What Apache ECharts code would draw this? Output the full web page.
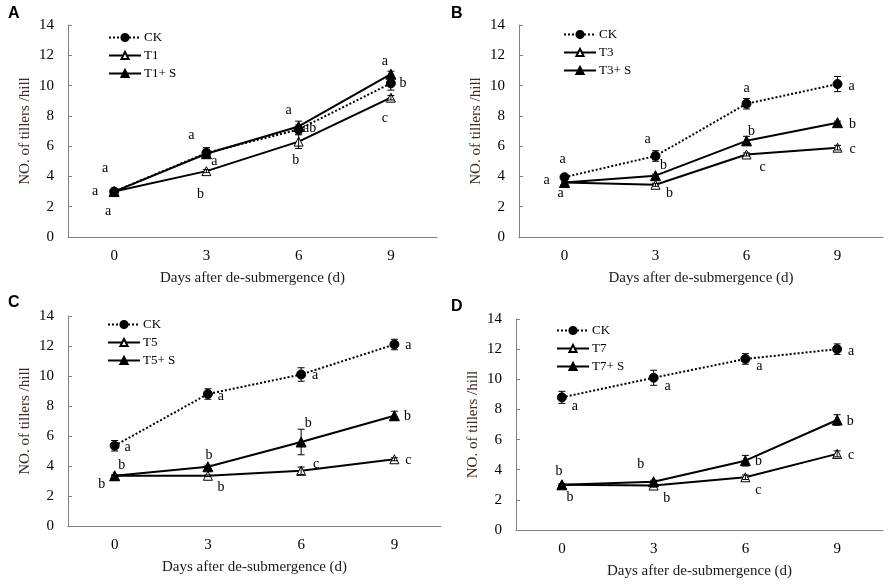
<!DOCTYPE html>
<html><head><meta charset="utf-8">
<script src="https://cdn.jsdelivr.net/npm/echarts@6/dist/echarts.min.js"></script>
<style>html,body{margin:0;padding:0;background:#fff}#c{width:892px;height:584px}</style>
</head><body><div id="c"></div>
<script>
// ---------- data ----------
const days = ['0', '3', '6', '9'];
const yTicks = [0, 2, 4, 6, 8, 10, 12, 14];
const panelTitles = ['A', 'B', 'C', 'D'];
const treatNames = [['CK', 'T1', 'T1+ S'], ['CK', 'T3', 'T3+ S'], ['CK', 'T5', 'T5+ S'], ['CK', 'T7', 'T7+ S']];

// Panel A
const A_CK = [3.0, 5.55, 7.1, 10.15];      const A_CK_err = [0.1, 0.35, 0.3, 0.45];
const A_T = [3.0, 4.35, 6.3, 9.2];         const A_T_err = [0.05, 0.1, 0.45, 0.15];
const A_TS = [3.0, 5.5, 7.3, 10.75];       const A_TS_err = [0.05, 0.3, 0.35, 0.2];
const A_CK_sig = ['a', 'a', 'ab', 'b'];
const A_T_sig = ['a', 'b', 'b', 'c'];
const A_TS_sig = ['a', 'a', 'a', 'a'];
// Panel B
const B_CK = [3.95, 5.35, 8.8, 10.1];      const B_CK_err = [0.15, 0.35, 0.35, 0.5];
const B_T = [3.6, 3.45, 5.45, 5.9];        const B_T_err = [0.1, 0.1, 0.1, 0.15];
const B_TS = [3.6, 4.05, 6.35, 7.55];      const B_TS_err = [0.1, 0.1, 0.3, 0.1];
const B_CK_sig = ['a', 'a', 'a', 'a'];
const B_T_sig = ['a', 'b', 'c', 'c'];
const B_TS_sig = ['a', 'b', 'b', 'b'];
// Panel C
const C_CK = [5.35, 8.8, 10.1, 12.1];      const C_CK_err = [0.35, 0.35, 0.45, 0.35];
const C_T = [3.35, 3.35, 3.68, 4.45];      const C_T_err = [0.05, 0.05, 0.25, 0.1];
const C_TS = [3.35, 3.95, 5.6, 7.35];      const C_TS_err = [0.05, 0.1, 0.85, 0.3];
const C_CK_sig = ['a', 'a', 'a', 'a'];
const C_T_sig = ['b', 'b', 'c', 'c'];
const C_TS_sig = ['b', 'b', 'b', 'b'];
// Panel D
const D_CK = [8.8, 10.1, 11.35, 12.0];     const D_CK_err = [0.4, 0.5, 0.35, 0.35];
const D_T = [3.0, 2.95, 3.5, 5.05];        const D_T_err = [0.05, 0.1, 0.15, 0.2];
const D_TS = [3.0, 3.2, 4.6, 7.3];         const D_TS_err = [0.05, 0.1, 0.35, 0.35];
const D_CK_sig = ['a', 'a', 'a', 'a'];
const D_T_sig = ['b', 'b', 'c', 'c'];
const D_TS_sig = ['b', 'b', 'b', 'b'];

// ---------- layout (pixel offsets of significance letters, grids, legends) ----------
const grids = [
  {left: 68, top: 25, width: 369, height: 212},
  {left: 519, top: 25, width: 364, height: 212},
  {left: 68, top: 316, width: 373, height: 210},
  {left: 516, top: 319, width: 367, height: 211}
];
const legendPos = [{left: 108, top: 31}, {left: 563, top: 28}, {left: 107, top: 318}, {left: 556, top: 324}];
const titlePos = [{left: 8, top: 6}, {left: 451, top: 6}, {left: 8, top: 295}, {left: 451, top: 299}];
const sigOffsets = [
  [[[-9,-23],[8,8],[11,-1],[12,0]], [[-6,20],[-6,23],[-3,19],[-6,21]], [[-19,0],[-15,-18],[-10,-16],[-6,-13]]],
  [[[-2,-18],[-8,-17],[0,-15],[14,2]], [[-4,11],[14,9],[16,13],[15,2]], [[-18,-2],[8,-10],[5,-10],[15,2]]],
  [[[13,2],[13,2],[14,1],[14,1]], [[-13,9],[13,12],[15,-6],[14,1]], [[7,-10],[1,-11],[7,-19],[13,1]]],
  [[[13,9],[14,9],[14,7],[14,2]], [[8,13],[13,13],[13,13],[14,1]], [[-3,-13],[-13,-17],[13,1],[13,1]]]
];

const panels = [
  {vals: [A_CK, A_T, A_TS], errs: [A_CK_err, A_T_err, A_TS_err], sigs: [A_CK_sig, A_T_sig, A_TS_sig]},
  {vals: [B_CK, B_T, B_TS], errs: [B_CK_err, B_T_err, B_TS_err], sigs: [B_CK_sig, B_T_sig, B_TS_sig]},
  {vals: [C_CK, C_T, C_TS], errs: [C_CK_err, C_T_err, C_TS_err], sigs: [C_CK_sig, C_T_sig, C_TS_sig]},
  {vals: [D_CK, D_T, D_TS], errs: [D_CK_err, D_T_err, D_TS_err], sigs: [D_CK_sig, D_T_sig, D_TS_sig]}
];

const SERIF = '"Liberation Serif", "Times New Roman", serif';
const axisGrey = '#808080';
const styles = [
  {symbol: 'circle', symbolSize: 9, lineType: [2, 2], color: '#000', border: '#000', lw: 2},
  {symbol: 'triangle', symbolSize: 9, lineType: 'solid', color: '#fff', border: '#000', lw: 2},
  {symbol: 'triangle', symbolSize: 10, lineType: 'solid', color: '#000', border: '#000', lw: 2}
];

const option = {
  backgroundColor: '#fff',
  animation: false,
  title: panelTitles.map((t, k) => ({
    text: t, left: titlePos[k].left, top: titlePos[k].top, padding: 0,
    textStyle: {fontFamily: 'Arial, "Liberation Sans", sans-serif', fontWeight: 'bold', fontSize: 16, color: '#000'}
  })),
  legend: treatNames.map((names, k) => ({
    orient: 'vertical', left: legendPos[k].left, top: legendPos[k].top, padding: 0,
    itemWidth: 32, itemHeight: 9, itemGap: 5, selectedMode: false,
    data: names.map((n) => ({name: n + '\u200B'.repeat(k)})),
    textStyle: {fontFamily: SERIF, fontSize: 13, color: '#000', padding: [0, 0, 0, -2]}
  })),
  grid: grids.map(g => Object.assign({containLabel: false}, g)),
  xAxis: grids.map((g, k) => ({
    type: 'category', gridIndex: k, data: days, boundaryGap: true,
    name: 'Days after de-submergence (d)', nameLocation: 'middle', nameGap: 34,
    nameTextStyle: {fontFamily: SERIF, fontSize: 15, color: '#1a1a1a'},
    axisLine: {lineStyle: {color: axisGrey, width: 1}},
    axisTick: {inside: true, length: 4, lineStyle: {color: axisGrey}},
    axisLabel: {fontFamily: SERIF, fontSize: 15, color: '#000', margin: 12},
    splitLine: {show: false}
  })),
  yAxis: grids.map((g, k) => ({
    type: 'value', gridIndex: k, min: yTicks[0], max: yTicks[yTicks.length - 1], interval: 2,
    name: 'NO. of tillers /hill', nameLocation: 'middle', nameGap: 35,
    nameTextStyle: {fontFamily: SERIF, fontSize: 15, color: '#3d2b22'},
    axisLine: {show: true, lineStyle: {color: axisGrey, width: 1}},
    axisTick: {show: true, inside: true, length: 4, lineStyle: {color: axisGrey}},
    axisLabel: {fontFamily: SERIF, fontSize: 15, color: '#000', margin: 14},
    splitLine: {show: false}
  })),
  series: []
};

panels.forEach((p, k) => {
  p.vals.forEach((vals, s) => {
    const st = styles[s];
    const name = treatNames[k][s] + '\u200B'.repeat(k);
    option.series.push({
      type: 'line', name: name, xAxisIndex: k, yAxisIndex: k, z: 3 + s,
      symbol: st.symbol, symbolSize: st.symbolSize, showSymbol: true,
      lineStyle: {color: '#000', width: st.lw, type: st.lineType},
      itemStyle: {color: st.color, borderColor: st.border, borderWidth: 1},
      data: vals.map((v, i) => ({
        value: v,
        label: {
          show: true, position: 'inside', formatter: p.sigs[s][i], offset: sigOffsets[k][s][i],
          fontFamily: SERIF, fontSize: 14, color: '#000'
        }
      }))
    });
    option.series.push({
      type: 'custom', xAxisIndex: k, yAxisIndex: k, z: 10, silent: true,
      data: vals.map((v, i) => [i, v - p.errs[s][i], v + p.errs[s][i]]),
      renderItem: function (params, api) {
        const lo = api.coord([api.value(0), api.value(1)]);
        const hi = api.coord([api.value(0), api.value(2)]);
        const w = 3.5;
        const ls = {stroke: '#000', lineWidth: 1};
        return {type: 'group', children: [
          {type: 'line', shape: {x1: lo[0], y1: lo[1], x2: hi[0], y2: hi[1]}, style: ls},
          {type: 'line', shape: {x1: lo[0] - w, y1: lo[1], x2: lo[0] + w, y2: lo[1]}, style: ls},
          {type: 'line', shape: {x1: hi[0] - w, y1: hi[1], x2: hi[0] + w, y2: hi[1]}, style: ls}
        ]};
      },
      encode: {x: 0, y: [1, 2]}
    });
  });
});

const chart = echarts.init(document.getElementById('c'), null, {renderer: 'canvas'});
chart.setOption(option);
</script>
</body></html>
